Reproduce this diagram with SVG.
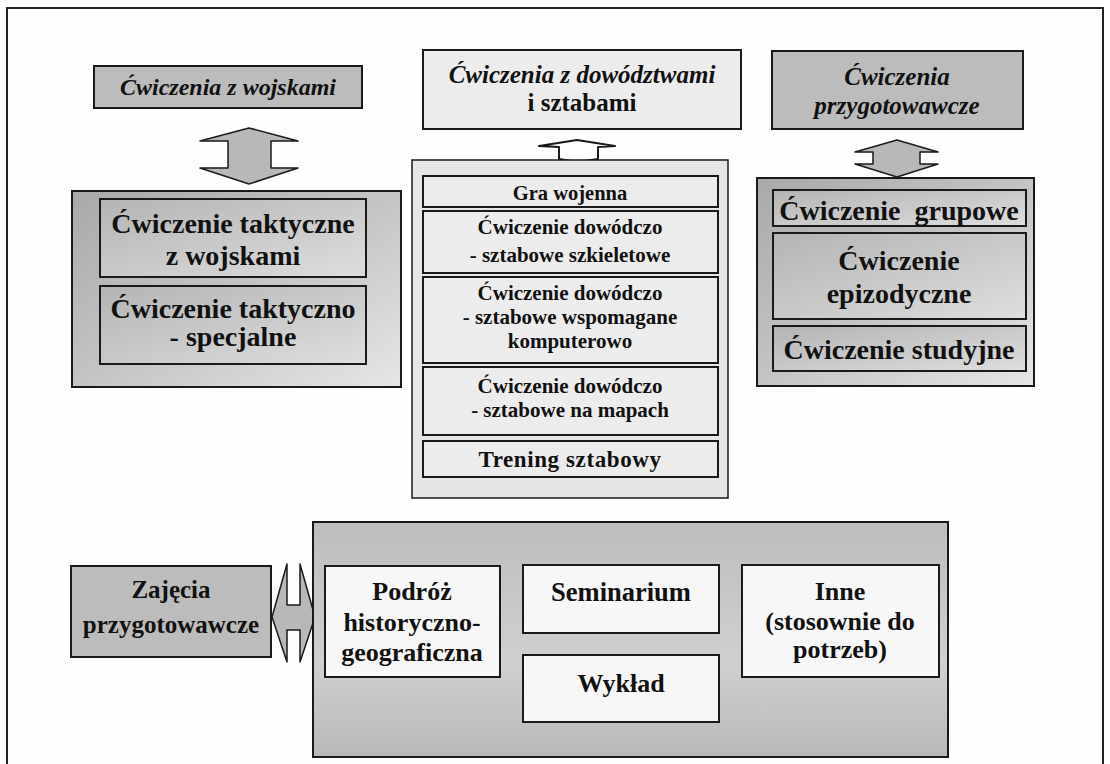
<svg xmlns="http://www.w3.org/2000/svg" width="1110" height="764" viewBox="0 0 1110 764">
<defs>
<linearGradient id="gL" x1="0" y1="0" x2="1" y2="1">
<stop offset="0" stop-color="#a9a9a9"/><stop offset="0.5" stop-color="#c4c4c4"/><stop offset="1" stop-color="#e6e6e6"/>
</linearGradient>
<linearGradient id="gI" x1="0" y1="0" x2="1" y2="1">
<stop offset="0" stop-color="#b4b4b4"/><stop offset="1" stop-color="#dedede"/>
</linearGradient>
<linearGradient id="gB" x1="0" y1="0" x2="0" y2="1">
<stop offset="0" stop-color="#bdbdbd"/><stop offset="0.6" stop-color="#d0d0d0"/><stop offset="1" stop-color="#b8b8b8"/>
</linearGradient>
</defs>
<style>
.frame{fill:#fdfefe;stroke:#222;stroke-width:2}
.dark{fill:#bcbcbc;stroke:#1a1a1a;stroke-width:2}
.cont{fill:url(#gL);stroke:#1a1a1a;stroke-width:2}
.inner{fill:url(#gI);stroke:#1a1a1a;stroke-width:2}
.light{fill:#ececec;stroke:#1a1a1a;stroke-width:2}
.lightc{fill:#e6e6e6;stroke:#1a1a1a;stroke-width:1.5}
.white{fill:#f7f7f7;stroke:#1a1a1a;stroke-width:2}
.bcont{fill:url(#gB);stroke:#1a1a1a;stroke-width:2}
.arr{fill:#b8b8b8;stroke:#1a1a1a;stroke-width:1.5;stroke-linejoin:round}
.arrw{fill:#ffffff;stroke:#1a1a1a;stroke-width:2;stroke-linejoin:round}
text{font-family:"Liberation Serif","Times New Roman",serif;font-weight:bold;fill:#111;text-anchor:middle}
.it{font-style:italic;font-size:24px}
.big{font-size:28px}
.mid{font-size:21px}
.bot{font-size:26px}
</style>
<rect class="frame" x="7" y="8" width="1096" height="770"/>

<g id="connectors">
<polygon class="arr" points="249,128 298,141 271,141 271,168 298,168 249,184 200,168 228,168 228,141 200,141"/>
<polygon class="arr" points="897,140 938,152 920,152 920,164 938,164 897,177 855,164 873,164 873,152 855,152"/>
<polygon class="arrw" points="577,140 615,146 598,147 598,159 577,162 559,159 559,147 539,146"/>
<polygon class="arr" points="272,617 287,564 287,605 300,605 300,564 315,617 300,662 300,630 287,630 287,662"/>
</g>

<g id="n-wojska">
<rect class="dark" x="94" y="66" width="268" height="42"/>
<text class="it" x="228" y="95">Ćwiczenia z wojskami</text>
</g>
<g id="n-dowodztwa">
<rect class="light" x="423" y="50" width="318" height="79"/>
<text class="it" x="582" y="83" style="font-size:25px">Ćwiczenia z dowództwami</text>
<text class="it" x="582" y="111" style="font-style:normal;font-size:25px">i sztabami</text>
</g>
<g id="n-przyg">
<rect class="dark" x="772" y="51" width="251" height="78"/>
<text class="it" x="897" y="85" style="font-size:25px">Ćwiczenia</text>
<text class="it" x="897" y="114" style="font-size:25px">przygotowawcze</text>
</g>

<g id="c-left">
<rect class="cont" x="72" y="191" width="329" height="196"/>
<g id="n-taktyczne">
<rect class="inner" x="100" y="199" width="266" height="78"/>
<text class="big" x="233" y="233">Ćwiczenie taktyczne</text>
<text class="big" x="233" y="265">z wojskami</text>
</g>
<g id="n-specjalne">
<rect class="inner" x="100" y="286" width="266" height="78"/>
<text class="big" x="233" y="318">Ćwiczenie taktyczno</text>
<text class="big" x="233" y="346">- specjalne</text>
</g>
</g>

<g id="c-center">
<rect class="lightc" x="412" y="160" width="316" height="338"/>
<g id="n-gra">
<rect class="light" x="423" y="176" width="295" height="31"/>
<text class="mid" x="570" y="200" style="font-size:20.5px">Gra wojenna</text>
</g>
<g id="n-szkielet">
<rect class="light" x="423" y="211" width="295" height="62"/>
<text class="mid" x="570" y="234">Ćwiczenie dowódczo</text>
<text class="mid" x="570" y="262">- sztabowe szkieletowe</text>
</g>
<g id="n-komp">
<rect class="light" x="423" y="277" width="295" height="86"/>
<text class="mid" x="570" y="300">Ćwiczenie dowódczo</text>
<text class="mid" x="570" y="324">- sztabowe wspomagane</text>
<text class="mid" x="570" y="348">komputerowo</text>
</g>
<g id="n-mapy">
<rect class="light" x="423" y="367" width="295" height="68"/>
<text class="mid" x="570" y="393">Ćwiczenie dowódczo</text>
<text class="mid" x="570" y="417">- sztabowe na mapach</text>
</g>
<g id="n-trening">
<rect class="light" x="423" y="441" width="295" height="36"/>
<text class="mid" x="570" y="467" style="font-size:23px;letter-spacing:0.6px">Trening sztabowy</text>
</g>
</g>

<g id="c-right">
<rect class="cont" x="757" y="178" width="277" height="208"/>
<g id="n-grupowe">
<rect class="inner" x="773" y="190" width="253" height="36"/>
<text class="big" x="899" y="220" xml:space="preserve">Ćwiczenie  grupowe</text>
</g>
<g id="n-epizod">
<rect class="inner" x="773" y="233" width="253" height="86"/>
<text class="big" x="899" y="270">Ćwiczenie</text>
<text class="big" x="899" y="303">epizodyczne</text>
</g>
<g id="n-studyjne">
<rect class="inner" x="773" y="326" width="253" height="45"/>
<text class="big" x="899" y="359">Ćwiczenie studyjne</text>
</g>
</g>

<g id="n-zajecia">
<rect class="dark" x="71" y="566" width="200" height="91"/>
<text class="bot" x="171" y="598" style="font-size:25px">Zajęcia</text>
<text class="bot" x="171" y="633" style="font-size:25px">przygotowawcze</text>
</g>

<g id="c-bottom">
<rect class="bcont" x="313" y="522" width="635" height="235"/>
<g id="n-podroz">
<rect class="white" x="325" y="566" width="175" height="111"/>
<text class="bot" x="412" y="600">Podróż</text>
<text class="bot" x="412" y="631">historyczno-</text>
<text class="bot" x="412" y="661">geograficzna</text>
</g>
<g id="n-seminarium">
<rect class="white" x="523" y="565" width="196" height="68"/>
<text class="bot" x="621" y="601" style="font-size:26.5px">Seminarium</text>
</g>
<g id="n-wyklad">
<rect class="white" x="523" y="655" width="196" height="67"/>
<text class="bot" x="621" y="692">Wykład</text>
</g>
<g id="n-inne">
<rect class="white" x="742" y="565" width="197" height="112"/>
<text class="bot" x="840" y="600">Inne</text>
<text class="bot" x="840" y="630">(stosownie do</text>
<text class="bot" x="840" y="658">potrzeb)</text>
</g>
</g>
</svg>
